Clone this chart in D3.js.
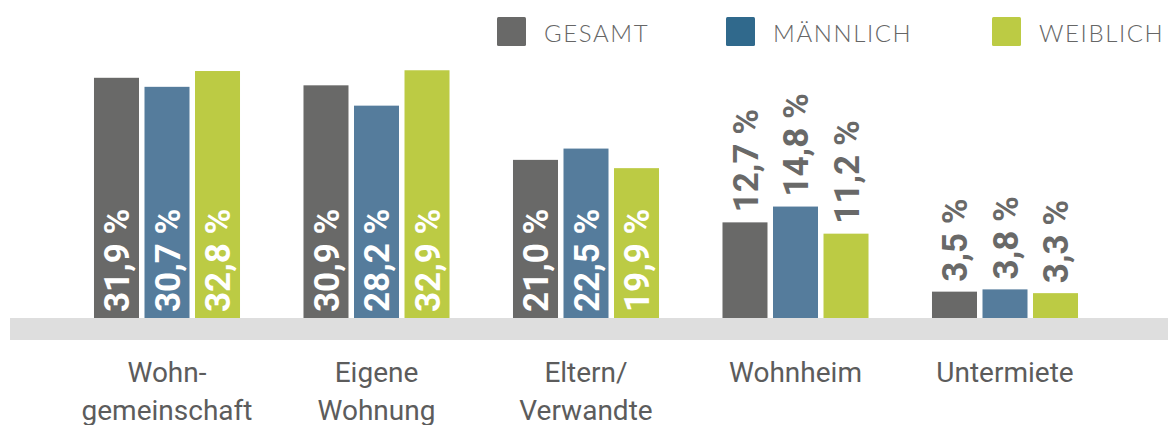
<!DOCTYPE html>
<html>
<head>
<meta charset="utf-8">
<script src="https://cdn.jsdelivr.net/npm/d3@7"></script>
<style>
  body { margin: 0; background: #fff; }
  svg { display: block; }
</style>
</head>
<body>
<svg width="1168" height="425"></svg>
<script>
const categories = [["Wohn-", "gemeinschaft"], ["Eigene", "Wohnung"], ["Eltern/", "Verwandte"], ["Wohnheim"], ["Untermiete"]];
const seriesNames = ["GESAMT", "MÄNNLICH", "WEIBLICH"];
const gesamt = [31.9, 30.9, 21.0, 12.7, 3.5];
const maennlich = [30.7, 28.2, 22.5, 14.8, 3.8];
const weiblich = [32.8, 32.9, 19.9, 11.2, 3.3];

const barColors = ["#696968", "#557c9c", "#bccb44"];
const legendColors = ["#696968", "#30698c", "#bccb44"];

const svg = d3.select("svg");
const width = +svg.attr("width");
const baseY = 318;

const catKeys = categories.map(c => c.join(" "));
const values = [gesamt, maennlich, weiblich];

const x0 = d3.scaleBand()
    .domain(catKeys)
    .range([62.25, 1109.75])
    .paddingInner(0.303)
    .paddingOuter(0.1515);

const x1 = d3.scaleBand()
    .domain(seriesNames)
    .range([0, x0.bandwidth()])
    .paddingInner(0.109);

const y = d3.scaleLinear()
    .domain([0, 35])
    .range([baseY, baseY - 35 * 7.53]);

// grauer Sockel
svg.append("rect")
    .attr("x", 10)
    .attr("y", baseY)
    .attr("width", width - 10)
    .attr("height", 22)
    .attr("fill", "#dedede");

const groups = svg.selectAll("g.group")
    .data(catKeys)
    .enter()
    .append("g")
    .attr("class", "group")
    .attr("transform", d => `translate(${x0(d)},0)`);

const fmt = v => d3.format(".1f")(v).replace(".", ",") + " %";

groups.each(function(cat, i) {
  const g = d3.select(this);
  const bars = seriesNames.map((s, j) => ({ s, j, v: values[j][i] }));

  g.selectAll("rect")
      .data(bars)
      .enter()
      .append("rect")
      .attr("x", d => x1(d.s))
      .attr("y", d => y(d.v))
      .attr("width", x1.bandwidth())
      .attr("height", d => y(0) - y(d.v))
      .attr("fill", d => barColors[d.j]);

  // Werte: in hohen Balken weiß innen, sonst grau darüber
  g.selectAll("text.val")
      .data(bars)
      .enter()
      .append("text")
      .attr("class", "val")
      .attr("transform", d => {
        const cx = x1(d.s) + x1.bandwidth() / 2;
        const ty = d.v > 18 ? baseY - 6 : y(d.v) - 10;
        return `translate(${cx},${ty}) rotate(-90)`;
      })
      .attr("dy", "0.36em")
      .attr("text-anchor", "start")
      .style("font-family", "Roboto, sans-serif")
      .style("font-weight", "bold")
      .style("font-size", "35px")
      .style("fill", d => d.v > 18 ? "#fff" : "#696968")
      .text(d => fmt(d.v));
});

// Kategorien
categories.forEach((lines, i) => {
  const cx = x0(catKeys[i]) + x0.bandwidth() / 2;
  const t = svg.append("text")
      .attr("x", cx)
      .attr("y", 382)
      .attr("text-anchor", "middle")
      .style("font-family", "Roboto, sans-serif")
      .style("font-weight", 400)
      .style("font-size", "28px")
      .style("fill", "#5c5c5c");
  lines.forEach((l, k) => {
    t.append("tspan")
        .attr("x", cx)
        .attr("dy", k === 0 ? 0 : 38)
        .text(l);
  });
});

// Legende
const legendX = [497, 726, 992];
const legend = svg.append("g");
seriesNames.forEach((s, j) => {
  legend.append("rect")
      .attr("x", legendX[j])
      .attr("y", 17)
      .attr("width", 29)
      .attr("height", 29)
      .attr("rx", 1.5)
      .attr("fill", legendColors[j]);
  legend.append("text")
      .attr("x", legendX[j] + 47)
      .attr("y", 42)
      .style("font-family", "Lato, sans-serif")
      .style("font-weight", 300)
      .style("font-size", "24px")
      .style("letter-spacing", "1.6px")
      .style("fill", "#666")
      .text(s);
});
</script>
</body>
</html>
